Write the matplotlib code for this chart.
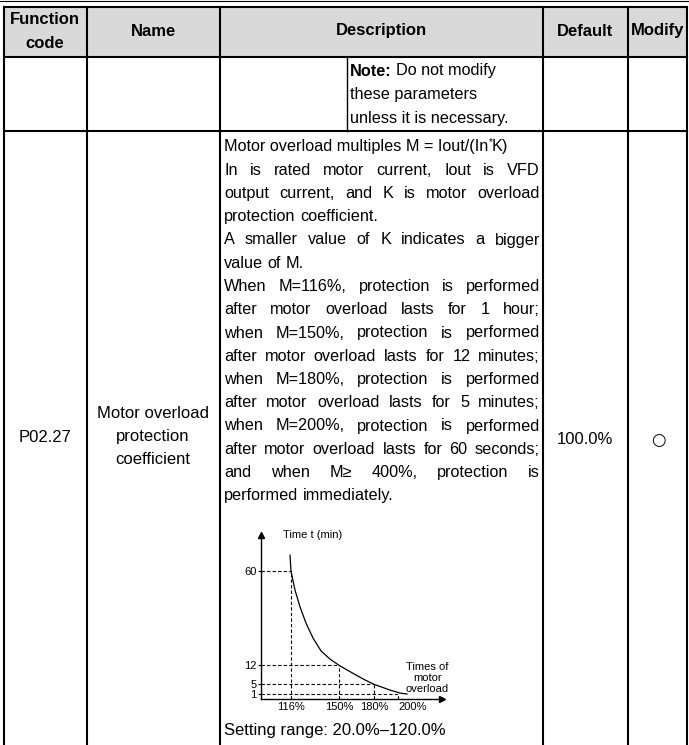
import numpy as np
import matplotlib.pyplot as plt

plt.rcParams['font.family'] = ['Liberation Sans', 'DejaVu Sans']

W, H = 689, 745

# table content
col_edges = [4, 87, 220, 543, 628, 687]
headers = ['Name', 'Description', 'Default', 'Modify']
note_lines = ['Do not modify', 'these parameters', 'unless it is necessary.']
func_code = 'P02.27'
name_lines = ['Motor overload', 'protection', 'coefficient']
default_value = '100.0%'
modify_mark = '\u25cb'
formula_head = 'Motor overload multiples M = Iout/(In'
formula_tail = 'K)'
desc_lines = [
    ('In is rated motor current, Iout is VFD', True),
    ('output current, and K is motor overload', True),
    ('protection coefficient.', False),
    ('A smaller value of K indicates a bigger', True),
    ('value of M.', False),
    ('When M=116%, protection is performed', True),
    ('after motor overload lasts for 1 hour;', True),
    ('when M=150%, protection is performed', True),
    ('after motor overload lasts for 12 minutes;', True),
    ('when M=180%, protection is performed', True),
    ('after motor overload lasts for 5 minutes;', True),
    ('when M=200%, protection is performed', True),
    ('after motor overload lasts for 60 seconds;', True),
    ('and when M\u2265 400%, protection is', True),
    ('performed immediately.', False),
]
setting_range = 'Setting range: 20.0%\u2013120.0%'

# overload curve (schematic)
pct_marks = [116, 150, 180, 200]
min_marks = [60, 12, 5, 1]
curve_pct = [115.3, 116, 118.8, 122.4, 126.6, 131.6, 137.3, 143.6, 150,
             164.6, 172.3, 180, 193.3, 201.7, 207.5]
curve_min = [68.2, 60, 50.5, 41.8, 33.6, 25.9, 19.3, 15.2, 12,
             8.4, 6.6, 5, 2.7, 1.5, 1.1]

FS = 12
FS_D = 11.7

fig = plt.figure(figsize=(W / 100, H / 100), dpi=100)
ax0 = fig.add_axes([0, 0, 1, 1])
ax0.set_xlim(0, W)
ax0.set_ylim(H, 0)
ax0.axis('off')

# page line + header shading
ax0.plot([0, W], [0.8, 0.8], c='k', lw=0.8)
ax0.add_patch(plt.Rectangle((col_edges[0], 7), col_edges[-1] - col_edges[0], 50,
                            fc='#d9d9d9', ec='none'))

lw = 1.5
ax0.plot([col_edges[0], col_edges[-1]], [7, 7], c='k', lw=lw)
ax0.plot([col_edges[0], col_edges[-1]], [57, 57], c='k', lw=lw)
ax0.plot([col_edges[0], col_edges[-1]], [131, 131], c='k', lw=lw)
for x in col_edges:
    ax0.plot([x, x], [7, H], c='k', lw=lw)
ax0.plot([347, 347], [57, 131], c='k', lw=1.0)

# header text
ax0.text(45, 19, 'Function', ha='center', va='center', fontsize=FS, weight='bold')
ax0.text(45, 43, 'code', ha='center', va='center', fontsize=FS, weight='bold')
for i, h in enumerate(headers):
    cx = (col_edges[i + 1] + col_edges[i + 2]) / 2
    ax0.text(cx, 31, h, ha='center', va='center', fontsize=FS, weight='bold')

fig.canvas.draw()
r = fig.canvas.get_renderer()


def text_width(s, size=FS_D, **kw):
    t = ax0.text(0, 0, s, fontsize=size, **kw)
    w = t.get_window_extent(renderer=r).width
    t.remove()
    return w


# note cell
ax0.text(350, 71, 'Note:', ha='left', va='center', fontsize=FS_D, weight='bold')
wn = text_width('Note: ', weight='bold')
ax0.text(350 + wn, 71, note_lines[0], ha='left', va='center', fontsize=FS_D)
for i, s in enumerate(note_lines[1:]):
    ax0.text(350, 95 + 24 * i, s, ha='left', va='center', fontsize=FS_D)

# description
x0, x1 = 224, 540
y0, dy = 147, 23.25
ax0.text(x0, y0, formula_head, ha='left', va='center', fontsize=FS_D)
wf = text_width(formula_head)
ax0.text(x0 + wf + 0.5, y0 - 5, '*', ha='left', va='center', fontsize=7)
ax0.text(x0 + wf + 3.5, y0, formula_tail, ha='left', va='center', fontsize=FS_D)

space_w = text_width('a a') - text_width('aa')
for i, (line, justify) in enumerate(desc_lines):
    y = y0 + dy * (i + 1)
    words = line.split(' ')
    widths = [text_width(w) for w in words]
    gap = (x1 - x0 - sum(widths)) / (len(words) - 1) if justify else space_w
    x = x0
    for w, wd in zip(words, widths):
        ax0.text(x, y, w, ha='left', va='center', fontsize=FS_D)
        x += wd + gap

ax0.text(x0, 731, setting_range, ha='left', va='center', fontsize=FS)

# other cells of the row
ax0.text(45, 437, func_code, ha='center', va='center', fontsize=FS)
for i, s in enumerate(name_lines):
    ax0.text(153, 414 + 23 * i, s, ha='center', va='center', fontsize=FS)
ax0.text(585, 440, default_value, ha='center', va='center', fontsize=FS)
ax0.text(658, 440, modify_mark, ha='center', va='center', fontsize=FS,
         family=['DejaVu Sans'])

# schematic curve: piecewise scales so marked values sit where drawn
x_anchor, x_pos = [95, 116, 150, 180, 200, 240], [0, 30, 78, 113, 137, 185]
y_anchor, y_pos = [0, 1, 5, 12, 60, 90], [0, 4.7, 14.7, 33.7, 127.7, 186.4]


def fx(v):
    return np.interp(v, x_anchor, x_pos)


def fx_inv(p):
    return np.interp(p, x_pos, x_anchor)


def fy(v):
    return np.interp(v, y_anchor, y_pos)


def fy_inv(p):
    return np.interp(p, y_pos, y_anchor)


ox, oy = 261, 699
ax = fig.add_axes([ox / W, (H - oy) / H, 181 / W, 164 / H])
ax.set_facecolor('none')
ax.set_xscale('function', functions=(fx, fx_inv))
ax.set_yscale('function', functions=(fy, fy_inv))
ax.set_xlim(95, float(fx_inv(181)))
ax.set_ylim(0, float(fy_inv(164)))

for s in ['top', 'right']:
    ax.spines[s].set_visible(False)
for s in ['left', 'bottom']:
    ax.spines[s].set_linewidth(1.0)
ax.plot(1, 0, '>k', ms=5, transform=ax.transAxes, clip_on=False)
ax.plot(0, 1, '^k', ms=5, transform=ax.transAxes, clip_on=False)

ax.hlines(min_marks, 95, pct_marks, colors='k', linestyles=(0, (3, 2)), lw=0.8)
ax.vlines(pct_marks, 0, min_marks, colors='k', linestyles=(0, (3, 2)), lw=0.8)
ax.plot(curve_pct, curve_min, c='k', lw=0.9)

ax.set_yticks(min_marks)
ax.set_yticklabels([str(m) for m in min_marks])
ax.set_xticks(pct_marks)
ax.set_xticklabels([f'{p}%' for p in pct_marks])
ax.tick_params(axis='y', length=2, width=0.8, pad=1, labelsize=8)
ax.tick_params(axis='x', length=0, pad=2, labelsize=8)
last = ax.get_xticklabels()[-1]
last.set_horizontalalignment('left')

ax.text(0.12, 1.0, 'Time t (min)', transform=ax.transAxes, ha='left', va='center', fontsize=8)
for i, s in enumerate(['Times of', 'motor', 'overload']):
    ax.text(0.92, 0.195 - 0.067 * i, s, transform=ax.transAxes, ha='center',
            va='center', fontsize=8)

fig.savefig('out.png', dpi=100)
